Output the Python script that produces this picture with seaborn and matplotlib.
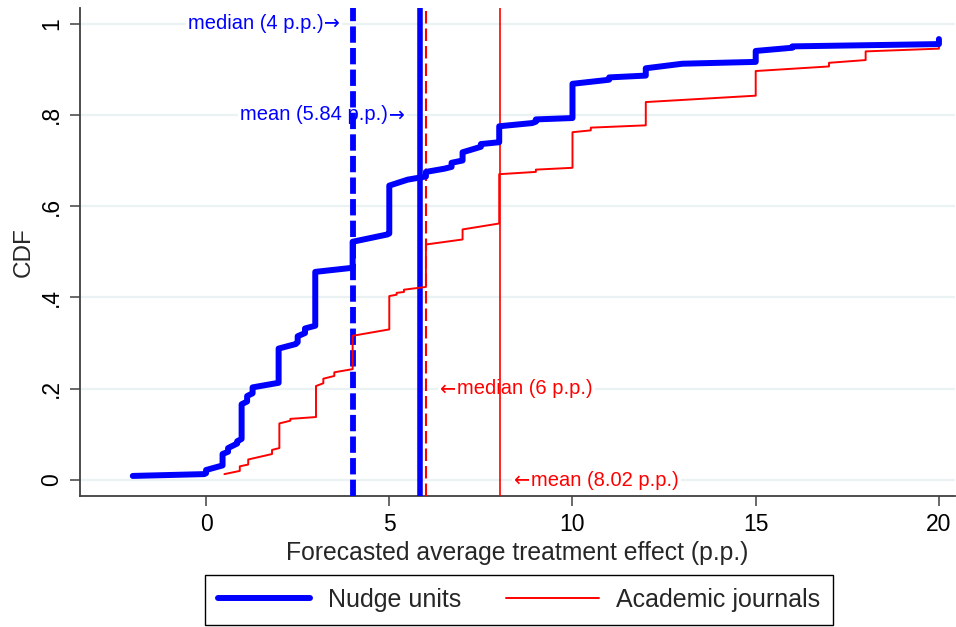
import pandas as pd
import matplotlib.pyplot as plt
import seaborn as sns

nudge_x = [-2.0, -0.05, 0.0, 0.0, 0.45, 0.45, 0.6, 0.6, 0.85, 0.85, 0.97, 0.97,
           1.12, 1.12, 1.27, 1.27, 1.98, 1.98, 2.45, 2.5, 2.5, 2.7, 2.7, 2.98, 2.98,
           4.0, 4.0, 4.95, 5.0, 5.0, 5.5, 6.0, 6.0, 6.5, 6.7, 6.7, 7.0, 7.0,
           7.5, 7.5, 8.0, 8.0, 8.9, 9.0, 9.0, 10.0, 10.0, 10.9, 11.0, 11.0,
           12.0, 12.0, 13.0, 15.0, 15.0, 16.0, 16.0, 20.0, 20.0]
nudge_y = [0.009, 0.013, 0.015, 0.022, 0.032, 0.057, 0.062, 0.07, 0.08, 0.085, 0.09, 0.166,
           0.172, 0.184, 0.19, 0.203, 0.213, 0.288, 0.298, 0.302, 0.315, 0.322, 0.332, 0.338, 0.456,
           0.465, 0.522, 0.538, 0.54, 0.645, 0.658, 0.665, 0.675, 0.682, 0.686, 0.695, 0.70, 0.718,
           0.73, 0.736, 0.74, 0.775, 0.782, 0.785, 0.79, 0.793, 0.868, 0.876, 0.877, 0.882,
           0.886, 0.902, 0.912, 0.916, 0.94, 0.947, 0.95, 0.955, 0.966]

journal_x = [0.5, 0.92, 0.92, 1.15, 1.15, 1.8, 1.8, 2.0, 2.0, 2.3, 2.3, 3.0, 3.0,
             3.2, 3.2, 3.5, 3.5, 4.0, 4.0, 5.0, 5.0, 5.2, 5.2, 5.4, 5.4, 6.0, 6.0,
             7.0, 7.0, 8.0, 8.0, 9.0, 9.0, 10.0, 10.0, 10.5, 10.5, 12.0, 12.0,
             15.0, 15.0, 17.0, 17.0, 18.0, 18.0, 20.0, 20.0]
journal_y = [0.013, 0.02, 0.03, 0.034, 0.045, 0.057, 0.066, 0.07, 0.124, 0.13, 0.134, 0.138, 0.206,
             0.212, 0.222, 0.228, 0.236, 0.243, 0.316, 0.33, 0.403, 0.406, 0.41, 0.412, 0.417, 0.423, 0.516,
             0.527, 0.549, 0.562, 0.67, 0.675, 0.68, 0.684, 0.762, 0.766, 0.772, 0.777, 0.828,
             0.842, 0.896, 0.906, 0.914, 0.92, 0.939, 0.945, 0.963]

nudge_median, nudge_mean = 4.0, 5.84
journal_median, journal_mean = 6.0, 8.02

x_ticks = [0, 5, 10, 15, 20]
y_ticks = [0, 0.2, 0.4, 0.6, 0.8, 1]
y_tick_labels = ["0", ".2", ".4", ".6", ".8", "1"]

BLUE = "#0000ff"
RED = "#ff0000"
NOTE_SIZE = 14.5

# === STYLE ===
sns.set_theme(style="ticks")
plt.rcParams["font.family"] = ["Liberation Sans", "DejaVu Sans"]

nudge = pd.DataFrame({"x": nudge_x, "y": nudge_y})
journal = pd.DataFrame({"x": journal_x, "y": journal_y})

fig = plt.figure(figsize=(9.56, 6.27), dpi=100)
ax = fig.add_axes([0.0837, 0.2089, 0.9153, 0.7783])

# reference lines (median dashed, mean solid)
ax.axvline(nudge_median, color=BLUE, lw=4.2, ls=(0, (2.8, 0.9)), zorder=3)
ax.axvline(nudge_mean, color=BLUE, lw=4.0, zorder=3)
ax.axvline(journal_median, color=RED, lw=1.5, ls=(0, (6.0, 2.4)), zorder=3)
ax.axvline(journal_mean, color=RED, lw=1.2, zorder=3)

# CDF curves
sns.lineplot(data=journal, x="x", y="y", sort=False, estimator=None,
             color=RED, lw=1.4, ax=ax, zorder=4, label="Academic journals")
sns.lineplot(data=nudge, x="x", y="y", sort=False, estimator=None,
             color=BLUE, lw=4.3, ax=ax, zorder=5, label="Nudge units")

# annotations: arrow glyph from DejaVu (longer), words in Liberation Sans
box = dict(fc="white", ec="none", pad=1.5)


def note(x, y, words, color, arrow_right):
    if arrow_right:
        arrow = ax.text(x, y, "\u2192", ha="right", va="center", color=color,
                        fontsize=NOTE_SIZE, family="DejaVu Sans", bbox=box, zorder=2)
        ax.annotate(words, xy=(0, 0.5), xycoords=arrow, ha="right", va="center",
                    color=color, fontsize=NOTE_SIZE, bbox=box, zorder=2)
    else:
        arrow = ax.text(x, y, "\u2190", ha="left", va="center", color=color,
                        fontsize=NOTE_SIZE, family="DejaVu Sans", bbox=box, zorder=2)
        ax.annotate(words, xy=(1, 0.5), xycoords=arrow, ha="left", va="center",
                    color=color, fontsize=NOTE_SIZE, bbox=box, zorder=2)


note(3.66, 1.0, "median (4 p.p.)", BLUE, True)
note(5.43, 0.8, "mean (5.84 p.p.)", BLUE, True)
note(6.39, 0.2, "median (6 p.p.)", RED, False)
note(8.40, 0.0, "mean (8.02 p.p.)", RED, False)

# axes
ax.set_xlim(-3.44, 20.44)
ax.set_ylim(-0.035, 1.034)
ax.set_xticks(x_ticks)
ax.set_yticks(y_ticks)
ax.set_yticklabels(y_tick_labels, rotation=90, va="center")
ax.tick_params(direction="out", length=7, width=1.1, color="#404040",
               labelsize=16.5, labelcolor="black", pad=5)
ax.yaxis.grid(True, color="#eaf2f3", lw=1.6)
ax.xaxis.grid(False)
ax.set_axisbelow(True)
sns.despine(ax=ax)
for side in ["left", "bottom"]:
    ax.spines[side].set_color("#404040")
    ax.spines[side].set_linewidth(1.3)

ax.set_xlabel("Forecasted average treatment effect (p.p.)", fontsize=17.8, labelpad=4)
ax.set_ylabel("CDF", fontsize=17.5, labelpad=4)

# legend below the plot, nudge units first
ax.get_legend().remove()
handles, labels = ax.get_legend_handles_labels()
order = [labels.index("Nudge units"), labels.index("Academic journals")]
leg = fig.legend([handles[i] for i in order], [labels[i] for i in order],
                 loc="lower center", bbox_to_anchor=(0.543, 0.003), ncol=2,
                 fontsize=18, frameon=True, fancybox=False, framealpha=1,
                 edgecolor="black", handlelength=3.7, handletextpad=0.7,
                 columnspacing=1.8, borderpad=0.52, borderaxespad=0)
leg.get_frame().set_linewidth(1.0)

fig.savefig("out.png", dpi=100)
